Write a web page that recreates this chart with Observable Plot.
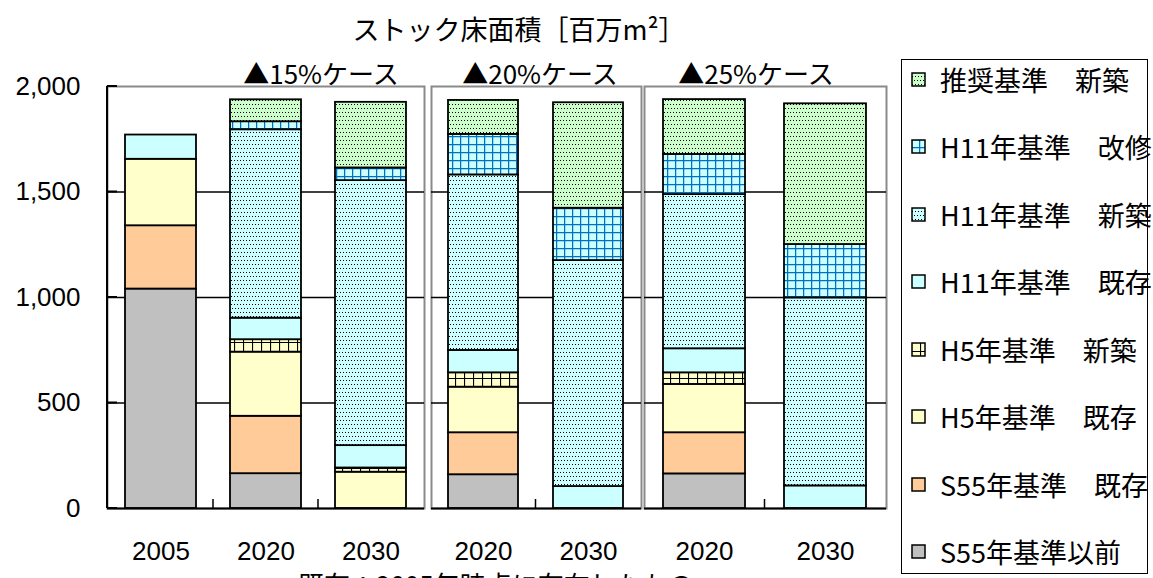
<!DOCTYPE html>
<html><head><meta charset="utf-8">
<script src="https://cdn.jsdelivr.net/npm/d3@7"></script>
<script src="https://cdn.jsdelivr.net/npm/@observablehq/plot@0.6"></script>
<style>
html,body{margin:0;padding:0;background:#fff;}
#root{position:relative;width:1153px;height:578px;overflow:hidden;font-family:"Noto Sans CJK JP",sans-serif;color:#000;background:#fff;}
.lbl{position:absolute;white-space:pre;line-height:1;}
.panel{position:absolute;top:0;}
#legend{position:absolute;left:901px;top:59px;width:247px;height:515px;border:1.5px solid #000;box-sizing:border-box;background:#fff;}
.item{position:absolute;left:0;white-space:pre;line-height:1;font-size:27px;}
.sw{position:absolute;left:9px;}
.tx{position:absolute;left:38px;}
</style></head><body>
<svg width="0" height="0" style="position:absolute">
<defs>
<pattern id="pDotGreen" width="6" height="8" patternUnits="userSpaceOnUse"><rect width="6" height="8" fill="#CCFFCC"/><rect x="0" y="0" width="1" height="1" fill="#000"/><rect x="3" y="0" width="1" height="1" fill="#000"/><rect x="1" y="4" width="1" height="1" fill="#000"/><rect x="4" y="4" width="1" height="1" fill="#000"/></pattern>
<pattern id="pDotCyan" width="6" height="8" patternUnits="userSpaceOnUse"><rect width="6" height="8" fill="#CCFFFF"/><rect x="0" y="0" width="1" height="1" fill="#000"/><rect x="3" y="0" width="1" height="1" fill="#000"/><rect x="1" y="4" width="1" height="1" fill="#000"/><rect x="4" y="4" width="1" height="1" fill="#000"/></pattern>
<pattern id="pGridBlue" width="8" height="8" patternUnits="userSpaceOnUse"><rect width="8" height="8" fill="#CCFFFF"/><path d="M0.5,0V8M0,0.5H8" stroke="#0070C0" stroke-width="1.5" fill="none"/></pattern>
<pattern id="pGridBlack" width="9" height="9" patternUnits="userSpaceOnUse"><rect width="9" height="9" fill="#FFFFCC"/><path d="M0.5,0V9M0,0.5H9" stroke="#000" stroke-width="1.2" fill="none"/></pattern>
</defs></svg>
<div id="root"></div>
<script>
// ---- data ----
const barKeys  = ["2005","15-2020","15-2030","20-2020","20-2030","25-2020","25-2030"];
const barYears = ["2005","2020","2030","2020","2030","2020","2030"];
const cases = ["▲15%ケース","▲20%ケース","▲25%ケース"];
const seriesNames = ["S55年基準以前","S55年基準　既存","H5年基準　既存","H5年基準　新築","H11年基準　既存","H11年基準　新築","H11年基準　改修","推奨基準　新築"];
const s55Before = [1040,165,0,160,0,164,0];
const s55Exist  = [300,272,0,199,0,195,0];
const h5Exist   = [315,304,172,216,0,229,0];
const h5New     = [0,59,20,68,0,55,0];
const h11Exist  = [115,102,106,106,104,114,107];
const h11New    = [0,893,1256,832,1071,731,891];
const h11Renov  = [0,38,60,192,248,190,253];
const recNew    = [0,104,311,161,500,260,667];
const yTicks = [0,500,1000,1500,2000];
const gridTicks = [500,1000,1500];
const titleText = "ストック床面積［百万m²］";
const captionText = "既存：2005年時点に存在したもの";

const seriesValues = [s55Before,s55Exist,h5Exist,h5New,h11Exist,h11New,h11Renov,recNew];
const fills = ["#C0C0C0","#FFCC99","#FFFFCC","url(#pGridBlack)","#CCFFFF","url(#pDotCyan)","url(#pGridBlue)","url(#pDotGreen)"];
const fillOf = Object.fromEntries(seriesNames.map((s,i)=>[s,fills[i]]));
const yearOf = Object.fromEntries(barKeys.map((k,i)=>[k,barYears[i]]));

const rows = [];
barKeys.forEach((k,i)=>seriesNames.forEach((s,j)=>{
  const v = seriesValues[j][i];
  if (v > 0) rows.push({key:k, series:s, value:v});
}));

// ---- layout (styling only) ----
const panels = [
  {keys: barKeys.slice(0,3), left:0,   width:428, ml:107, mr:4, pi:0.32, yAxis:true},
  {keys: barKeys.slice(3,5), left:428, width:215, ml:3,   mr:2, pi:0.33, yAxis:false},
  {keys: barKeys.slice(5,7), left:643, width:250, ml:1,   mr:7, pi:0.32, yAxis:false}
];
const H = 578, MT = 86, MB = 70;
const root = document.getElementById("root");

panels.forEach(p => {
  const data = rows.filter(r => p.keys.includes(r.key));
  const deco = (index, scales, values, dims) => {
    const g = d3.create("svg:g");
    const x = scales.x, y = scales.y;
    const dom = x.domain(), bw = x.bandwidth();
    const y0 = y(0);
    for (let i = 1; i < dom.length; i++) {
      const xm = (x(dom[i-1]) + bw + x(dom[i])) / 2;
      g.append("line").attr("x1",xm).attr("x2",xm).attr("y1",y0).attr("y2",y0-9).attr("stroke","#000").attr("stroke-width",1.5);
    }
    if (p.yAxis) {
      const xl = dims.marginLeft;
      g.append("line").attr("x1",xl).attr("x2",xl).attr("y1",y(0)).attr("y2",y(2000)).attr("stroke","#000").attr("stroke-width",2);
      yTicks.forEach(t => g.append("line").attr("x1",xl).attr("x2",xl+10).attr("y1",y(t)).attr("y2",y(t)).attr("stroke","#000").attr("stroke-width",2));
    }
    return g.node();
  };
  const plot = Plot.plot({
    width: p.width, height: H,
    marginTop: MT, marginBottom: MB, marginLeft: p.ml, marginRight: p.mr,
    style: "background: transparent; overflow: visible; font-family: 'Liberation Sans', Arial, sans-serif; font-size: 26px; color: #000;",
    x: {domain: p.keys, type: "band", paddingInner: p.pi, paddingOuter: p.pi/2, tickFormat: k => yearOf[k], tickSize: 0, tickPadding: 33, label: null},
    y: {domain: [0,2000], ticks: yTicks, tickFormat: d3.format(","), tickSize: 0, tickPadding: 27, label: null, axis: p.yAxis ? "left" : null},
    color: {type: "identity"},
    marks: [
      Plot.frame({stroke: "#8a8a8a", strokeWidth: 2}),
      Plot.ruleY(gridTicks, {stroke: "#000", strokeWidth: 1.5}),
      Plot.barY(data, Plot.stackY({order: seriesNames}, {x: "key", y: "value", z: "series", fill: d => fillOf[d.series], stroke: "#000", strokeWidth: 1.8})),
      Plot.ruleY([0], {stroke: "#000", strokeWidth: 2}),
      deco
    ]
  });
  plot.classList.add("panel");
  plot.style.left = p.left + "px";
  plot.style.position = "absolute";
  plot.style.top = "0px";
  root.appendChild(plot);
});

// ---- texts ----
function addLabel(text, cx, cy, size, anchor) {
  const d = document.createElement("div");
  d.className = "lbl";
  d.textContent = text;
  d.style.fontSize = size + "px";
  d.style.top = (cy - size/2) + "px";
  if (anchor === "start") { d.style.left = cx + "px"; }
  else { d.style.left = cx + "px"; d.style.transform = "translateX(-50%)"; }
  root.appendChild(d);
}
addLabel(titleText, 519, 28, 27);
const caseCenters = [321, 540, 756];
cases.forEach((c,i) => addLabel(c, caseCenters[i], 73, 26));
addLabel(captionText, 298, 584, 26, "start");

// ---- legend ----
const leg = document.createElement("div");
leg.id = "legend";
root.appendChild(leg);
const legendOrder = seriesNames.slice().reverse();
legendOrder.forEach((s,i) => {
  const cy = 78 + i*67.5 - 59;
  const it = document.createElement("div");
  it.className = "item";
  it.style.top = (cy - 13.5) + "px";
  it.style.width = "100%";
  it.style.height = "27px";
  const sw = document.createElementNS("http://www.w3.org/2000/svg","svg");
  sw.setAttribute("width","15"); sw.setAttribute("height","15");
  sw.setAttribute("class","sw");
  sw.style.top = "6px";
  const r = document.createElementNS("http://www.w3.org/2000/svg","rect");
  r.setAttribute("x","1"); r.setAttribute("y","1"); r.setAttribute("width","13"); r.setAttribute("height","13");
  r.setAttribute("fill", fillOf[s]); r.setAttribute("stroke","#000"); r.setAttribute("stroke-width","1.5");
  sw.appendChild(r);
  it.appendChild(sw);
  const tx = document.createElement("span");
  tx.className = "tx";
  tx.textContent = s;
  it.appendChild(tx);
  leg.appendChild(it);
});
</script>
</body></html>
